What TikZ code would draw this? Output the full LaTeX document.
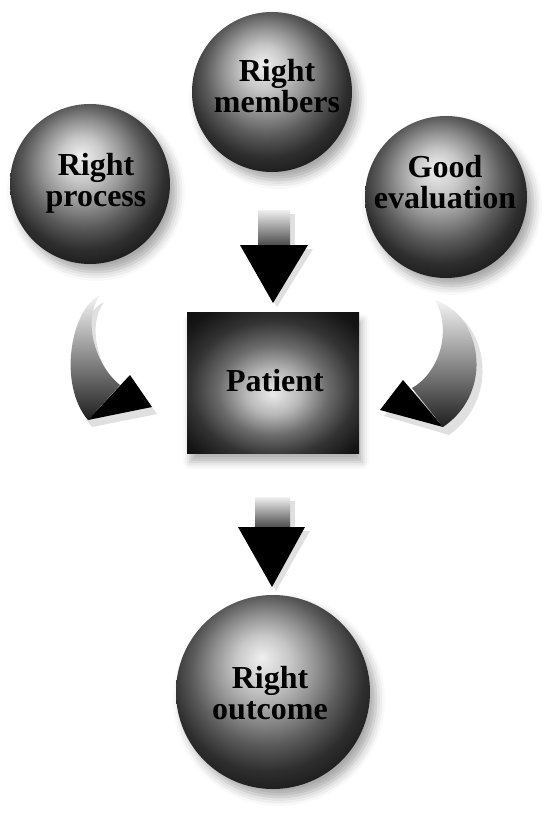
\documentclass[tikz,border=0pt]{standalone}
\usepackage{fontspec}
\setmainfont{Liberation Serif}
\usetikzlibrary{shadows.blur}

\pgfdeclareradialshading{spheresh}{\pgfpoint{-3bp}{9bp}}{%
  color(0bp)=(black!6); color(7bp)=(black!22); color(13bp)=(black!42);
  color(19bp)=(black!64); color(25bp)=(black!82); color(33bp)=(black!94);
  color(50bp)=(black)}
\pgfdeclareradialshading{boxsh}{\pgfpoint{0bp}{-4bp}}{%
  color(0bp)=(black!8); color(8bp)=(black!28); color(16bp)=(black!58);
  color(24bp)=(black!80); color(32bp)=(black!92); color(50bp)=(black)}

\tikzset{
  sphere/.style={circle, draw=none, inner sep=0pt, shading=spheresh,
    blur shadow={shadow xshift=6pt, shadow yshift=-8pt, shadow blur radius=9pt, shadow opacity=35}},
  patientbox/.style={rectangle, draw=none, inner sep=0pt, shading=boxsh,
    blur shadow={shadow xshift=3pt, shadow yshift=-9pt, shadow blur radius=7pt, shadow opacity=30}},
  lbl/.style={font=\bfseries\fontsize{32}{31}\selectfont, align=center, text=black, inner sep=0pt},
  shaftshade/.style={top color=black!6, bottom color=black!72},
  headfill/.style={fill=black},
  shadowfill/.style={fill=black, opacity=0.12},
}

\begin{document}
\begin{tikzpicture}[x=1pt,y=1pt]
\useasboundingbox (0,0) rectangle (546,-819);

% spheres and box
\node[sphere, minimum size=160pt] (members) at (272,-92) {};
\node[lbl] (tmembers) at (277,-86) {Right\\members};

\node[sphere, minimum size=160pt] (process) at (90,-184) {};
\node[lbl] (tprocess) at (96,-183) {Right\\process};

\node[sphere, minimum size=162pt] (evaluation) at (446,-197) {};
\node[lbl] (tevaluation) at (445,-182) {Good\\evaluation};

\node[patientbox, minimum width=172pt, minimum height=141pt] (patient) at (273,-382.5) {};
\node[lbl] (tpatient) at (275,-381) {Patient};

\node[sphere, minimum size=194pt] (outcome) at (273,-692) {};
\node[lbl] (toutcome) at (270,-693) {Right\\outcome};

% straight arrow: members -> patient
\coordinate (a1tip) at (273,-303);
\fill[shadowfill] (262,-214) rectangle (295,-250);
\fill[shadowfill] (244,-249) -- (313,-249) -- ([shift={(4,-4)}]a1tip) -- cycle;
\shade[shaftshade] (258,-210) rectangle (290,-246);
\fill[headfill] (240,-245) -- (308,-245) -- (a1tip) -- cycle;

% straight arrow: patient -> outcome
\coordinate (a2tip) at (272,-587);
\fill[shadowfill] (259,-501) rectangle (295,-531);
\fill[shadowfill] (242,-531) -- (310,-531) -- ([shift={(4,-4)}]a2tip) -- cycle;
\shade[shaftshade] (255,-497) rectangle (290,-528);
\fill[headfill] (238,-527) -- (305,-527) -- (a2tip) -- cycle;

% curved arrow: process -> patient
\coordinate (c1top) at (100,-295);
\coordinate (c1tip) at (152,-407);
\fill[shadowfill] ([shift={(4,-7)}]c1top) .. controls (74,-317) and (62,-392) .. (92,-427)
  -- ([shift={(5,-7)}]c1tip) -- (134,-382) -- (124,-392)
  .. controls (99,-372) and (86,-327) .. ([shift={(4,-7)}]c1top) -- cycle;
\shade[top color=black!4, bottom color=black!88] (c1top) .. controls (70,-310) and (58,-385) .. (88,-420)
  -- (120,-385) .. controls (95,-365) and (82,-320) .. (c1top) -- cycle;
\fill[headfill] (88,-420) -- (c1tip) -- (130,-375) -- cycle;

% curved arrow: evaluation -> patient
\coordinate (c2top) at (435,-300);
\coordinate (c2tip) at (380,-410);
\fill[shadowfill] ([shift={(6,-6)}]c2top) .. controls (488,-321) and (501,-398) .. (449,-435)
  -- ([shift={(4,-6)}]c2tip) -- (407,-386) -- (416,-394)
  .. controls (446,-378) and (458,-336) .. ([shift={(6,-6)}]c2top) -- cycle;
\shade[top color=black!4, bottom color=black!88] (c2top) .. controls (482,-315) and (495,-392) .. (443,-427)
  -- (412,-388) .. controls (440,-372) and (452,-330) .. (c2top) -- cycle;
\fill[headfill] (443,-427) -- (c2tip) -- (403,-380) -- cycle;
\end{tikzpicture}
\end{document}
